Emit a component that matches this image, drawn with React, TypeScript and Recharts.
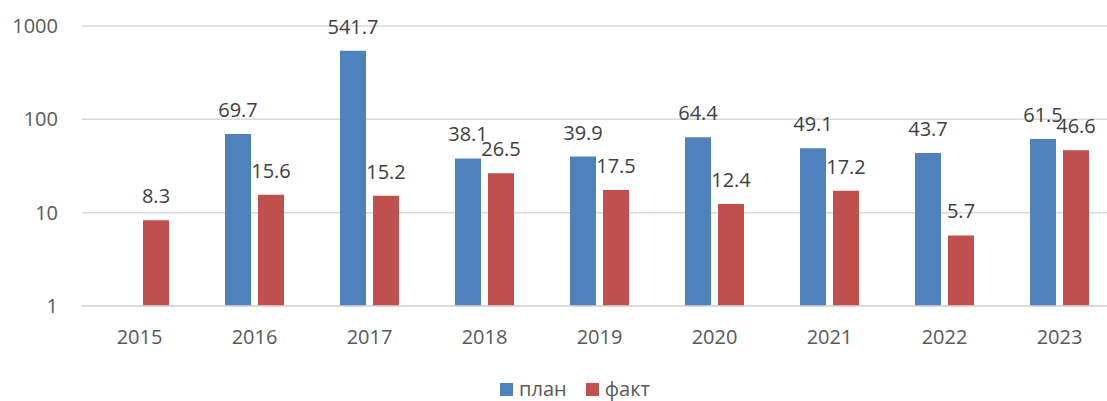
import { Bar, BarChart, CartesianGrid, LabelList, Legend, XAxis, YAxis } from "recharts";

const years = ["2015", "2016", "2017", "2018", "2019", "2020", "2021", "2022", "2023"];
const plan: (number | null)[] = [null, 69.7, 541.7, 38.1, 39.9, 64.4, 49.1, 43.7, 61.5];
const fact = [8.3, 15.6, 15.2, 26.5, 17.5, 12.4, 17.2, 5.7, 46.6];
const yTicks = [1, 10, 100, 1000];

const data = years.map((year, i) => ({ year, plan: plan[i], fact: fact[i] }));

const font = "'Open Sans', sans-serif";
const tickStyle = { fontSize: 20, fill: "#595959", fontFamily: font };
const labelStyle = { fontSize: 20, fill: "#404040", fontFamily: font };

const series = [
  { key: "plan", name: "план", color: "#4F81BD" },
  { key: "fact", name: "факт", color: "#C0504D" },
];

const fmt = (v: unknown) => (v == null ? "" : Number(v).toFixed(1));

function LegendContent() {
  return (
    <div
      style={{
        display: "flex",
        justifyContent: "center",
        alignItems: "center",
        gap: 19,
        fontFamily: font,
        fontSize: 20,
        lineHeight: "24px",
        color: "#595959",
        height: 24,
      }}
    >
      {series.map((s) => (
        <div key={s.key} style={{ display: "flex", alignItems: "center" }}>
          <span style={{ width: 13, height: 13, background: s.color, marginRight: 6 }} />
          <span>{s.name}</span>
        </div>
      ))}
    </div>
  );
}

export default function App() {
  return (
    <div
      style={{
        position: "absolute",
        left: 0,
        top: 0,
        width: 1107,
        height: 401,
        overflow: "hidden",
        background: "#fff",
      }}
    >
      <BarChart
        width={1125}
        height={401}
        data={data}
        margin={{ top: 26, right: 8, bottom: 0, left: 0 }}
        barSize={26}
        barGap={7}
      >
        <CartesianGrid vertical={false} stroke="#D9D9D9" strokeWidth={1.5} />
        <XAxis
          dataKey="year"
          tick={tickStyle}
          tickLine={false}
          axisLine={{ stroke: "#D9D9D9", strokeWidth: 1.5 }}
          tickMargin={18}
          height={71}
        />
        <YAxis
          scale="log"
          domain={[1, 1000]}
          ticks={yTicks}
          allowDataOverflow
          tick={tickStyle}
          tickLine={false}
          axisLine={false}
          tickMargin={18}
          width={82}
        />
        <Legend
          verticalAlign="bottom"
          height={24}
          content={<LegendContent />}
          wrapperStyle={{ left: 0, width: 1150 }}
        />
        {series.map((s) => (
          <Bar key={s.key} dataKey={s.key} name={s.name} fill={s.color} isAnimationActive={false}>
            <LabelList dataKey={s.key} position="top" offset={17} formatter={fmt} style={labelStyle} />
          </Bar>
        ))}
      </BarChart>
    </div>
  );
}
